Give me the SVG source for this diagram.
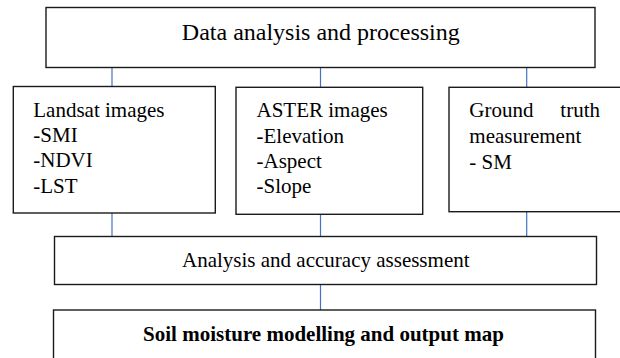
<svg xmlns="http://www.w3.org/2000/svg" width="620" height="358" viewBox="0 0 620 358">
  <style>
    .box { fill: #ffffff; stroke: #1a1a1a; stroke-width: 1.4; }
    .conn { stroke: #4472c4; stroke-width: 1.2; fill: none; }
    text { font-family: 'Liberation Serif', 'Times New Roman', Times, 'DejaVu Serif', serif; font-size: 21px; fill: #000; }
    .title { font-size: 24px; }
    .b { font-weight: bold; }
  </style>
  <rect width="620" height="358" fill="#ffffff"/>
  <g id="connectors">
    <line class="conn" x1="112" y1="67.5" x2="112" y2="86.5"/>
    <line class="conn" x1="320.5" y1="67.5" x2="320.5" y2="87.3"/>
    <line class="conn" x1="526.7" y1="67.5" x2="526.7" y2="87.3"/>
    <line class="conn" x1="112" y1="213" x2="112" y2="236.5"/>
    <line class="conn" x1="320.5" y1="214.3" x2="320.5" y2="236.5"/>
    <line class="conn" x1="526.7" y1="211.7" x2="526.7" y2="236.5"/>
    <line class="conn" x1="320.5" y1="284.5" x2="320.5" y2="310"/>
  </g>
  <g font-family="Liberation Serif, serif">
  <g id="data-analysis">
    <rect class="box" x="46" y="7.5" width="549" height="60"/>
    <text class="title" x="320.8" y="40" text-anchor="middle">Data analysis and processing</text>
  </g>
  <g id="landsat">
    <rect class="box" x="13.3" y="86.5" width="202" height="126.5"/>
    <text x="33.3" y="116.8">Landsat images</text>
    <text x="33.3" y="142.1">-SMI</text>
    <text x="33.3" y="167.4">-NDVI</text>
    <text x="33.3" y="192.7">-LST</text>
  </g>
  <g id="aster">
    <rect class="box" x="236" y="87.3" width="186.7" height="127"/>
    <text x="256.5" y="117.3">ASTER images</text>
    <text x="256.5" y="142.8">-Elevation</text>
    <text x="256.5" y="168.3">-Aspect</text>
    <text x="256.5" y="193.3">-Slope</text>
  </g>
  <g id="ground-truth">
    <rect class="box" x="449" y="87.3" width="200" height="124.4"/>
    <text x="469.3" y="117.3">Ground</text>
    <text x="600" y="117.3" text-anchor="end">truth</text>
    <text x="469.3" y="143.3">measurement</text>
    <text x="469.3" y="169.3" xml:space="preserve">- SM</text>
  </g>
  <g id="accuracy">
    <rect class="box" x="54.5" y="236.5" width="542" height="48"/>
    <text x="325.8" y="266.6" text-anchor="middle">Analysis and accuracy assessment</text>
  </g>
  <g id="output-map">
    <rect class="box" x="53.5" y="310" width="542" height="60"/>
    <text class="b" x="323.5" y="340.5" text-anchor="middle">Soil moisture modelling and output map</text>
  </g>
  </g>
</svg>
